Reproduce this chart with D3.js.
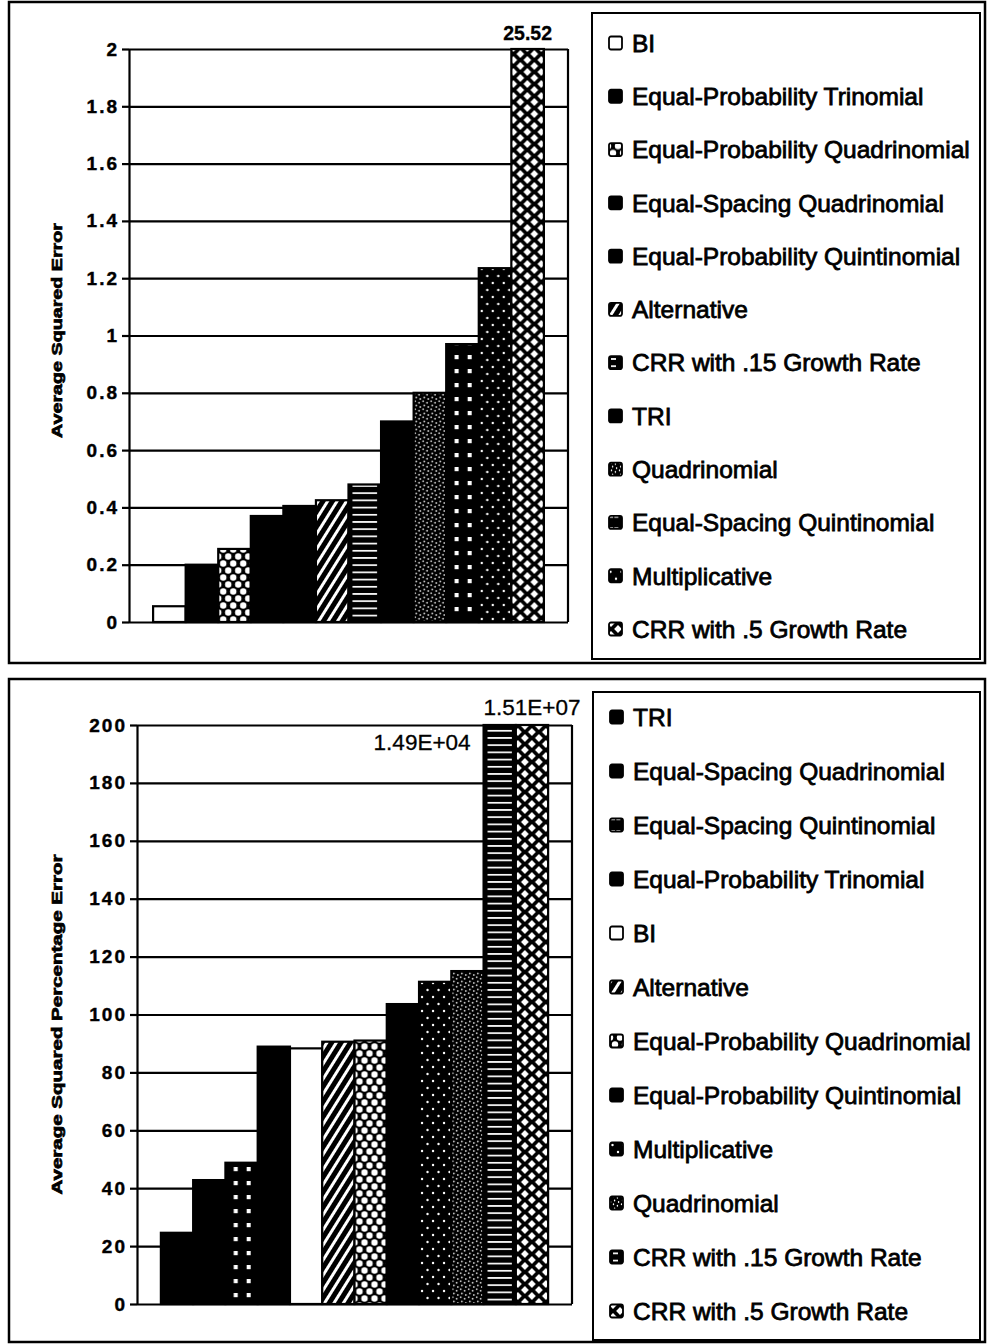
<!DOCTYPE html>
<html>
<head>
<meta charset="utf-8">
<script src="https://cdn.jsdelivr.net/npm/d3@7"></script>
<style>
  body { margin: 0; background: #fff; }
  svg { display: block; }
  text { font-family: "Liberation Sans", Arial, Helvetica, sans-serif; fill: #000; }
</style>
</head>
<body>
<svg id="chart" width="989" height="1344"></svg>
<script>
// ---- data ----------------------------------------------------------------
const seriesTop = [
  "BI", "Equal-Probability Trinomial", "Equal-Probability Quadrinomial",
  "Equal-Spacing Quadrinomial", "Equal-Probability Quintinomial", "Alternative",
  "CRR with .15 Growth Rate", "TRI", "Quadrinomial", "Equal-Spacing Quintinomial",
  "Multiplicative", "CRR with .5 Growth Rate"
];
const valuesTop = [0.055, 0.20, 0.255, 0.37, 0.405, 0.425, 0.48, 0.70, 0.80, 0.97, 1.235, 25.52];
const ticksTop = [0, 0.2, 0.4, 0.6, 0.8, 1, 1.2, 1.4, 1.6, 1.8, 2];

const seriesBottom = [
  "TRI", "Equal-Spacing Quadrinomial", "Equal-Spacing Quintinomial",
  "Equal-Probability Trinomial", "BI", "Alternative", "Equal-Probability Quadrinomial",
  "Equal-Probability Quintinomial", "Multiplicative", "Quadrinomial",
  "CRR with .15 Growth Rate", "CRR with .5 Growth Rate"
];
const valuesBottom = [24.6, 42.8, 48.8, 88.9, 88.3, 90.6, 91.0, 103.6, 111.3, 115.0, 1.49e4, 1.51e7];
const ticksBottom = [0, 20, 40, 60, 80, 100, 120, 140, 160, 180, 200];

// ---- helpers -------------------------------------------------------------
const svg = d3.select("#chart");
const defs = svg.append("defs");

// "1.49E+04" style scientific notation
function sciLabel(v) {
  const [m, e] = v.toExponential(2).split("e");
  const sign = e[0] === "-" ? "-" : "+";
  const digits = e.replace(/[+-]/, "").padStart(2, "0");
  return m + "E" + sign + digits;
}

// Fill patterns, one per series, anchored at the left edge of its bar
function makePattern(id, kind, x0, bw) {
  const p = defs.append("pattern").attr("id", id).attr("patternUnits", "userSpaceOnUse");
  const bg = (w, h, c) => p.append("rect").attr("width", w).attr("height", h).attr("fill", c);
  const diamond = (cx, cy, r) => `M${cx - r},${cy}L${cx},${cy - r}L${cx + r},${cy}L${cx},${cy + r}Z`;
  switch (kind) {
    case "lattice": // white rounded holes on black
      p.attr("x", x0).attr("width", 10).attr("height", 14);
      bg(10, 14, "#000");
      [[5, 3.5], [0, 10.5], [10, 10.5]].forEach(([cx, cy]) =>
        p.append("circle").attr("cx", cx).attr("cy", cy).attr("r", 3.2).attr("fill", "#fff"));
      break;
    case "diagonal": // white slanted stripes on black
      p.attr("x", x0).attr("width", 8).attr("height", 8).attr("patternTransform", "rotate(32)");
      bg(8, 8, "#000");
      p.append("rect").attr("x", 2).attr("width", 3).attr("height", 8).attr("fill", "#fff");
      break;
    case "hlines": // white horizontal dashes on black
      p.attr("x", x0).attr("width", bw).attr("height", 7.2);
      bg(bw, 7.2, "#000");
      p.append("rect").attr("x", 4).attr("y", 2.7).attr("width", bw - 8).attr("height", 1.7).attr("fill", "#fff");
      break;
    case "stipple": // fine white specks on black
      p.attr("x", x0).attr("width", 8).attr("height", 8);
      bg(8, 8, "#000");
      [[1.5, 1.2], [5.4, 2.8], [2.6, 5.6], [6.6, 6.9]].forEach(([cx, cy]) =>
        p.append("ellipse").attr("cx", cx).attr("cy", cy).attr("rx", 0.7).attr("ry", 1.0).attr("fill", "#fff"));
      break;
    case "squares": // two columns of small white squares
      p.attr("x", x0).attr("width", bw).attr("height", 14);
      bg(bw, 14, "#000");
      [bw * 0.32, bw * 0.72].forEach(cx =>
        p.append("rect").attr("x", cx - 2).attr("y", 5).attr("width", 4).attr("height", 4.2).attr("fill", "#fff"));
      break;
    case "dots": // sparse small white dots
      p.attr("x", x0).attr("width", 11).attr("height", 14);
      bg(11, 14, "#000");
      [[3, 3], [8.5, 10]].forEach(([cx, cy]) =>
        p.append("circle").attr("cx", cx).attr("cy", cy).attr("r", 1.2).attr("fill", "#fff"));
      break;
    case "diamonds": // white diamonds on black
      p.attr("x", x0 + 2).attr("width", 14).attr("height", 12);
      bg(14, 12, "#000");
      p.append("path").attr("fill", "#fff").attr("d",
        diamond(7, 6, 3.9) + diamond(0, 0, 3.9) + diamond(14, 0, 3.9) + diamond(0, 12, 3.9) + diamond(14, 12, 3.9));
      break;
  }
  return `url(#${id})`;
}

const styleOf = {
  "BI": "white",
  "Equal-Probability Trinomial": "black",
  "Equal-Probability Quadrinomial": "lattice",
  "Equal-Spacing Quadrinomial": "black",
  "Equal-Probability Quintinomial": "black",
  "Alternative": "diagonal",
  "CRR with .15 Growth Rate": "hlines",
  "TRI": "black",
  "Quadrinomial": "stipple",
  "Equal-Spacing Quintinomial": "squares",
  "Multiplicative": "dots",
  "CRR with .5 Growth Rate": "diamonds"
};

function fillFor(prefix, name, x0, bw) {
  const kind = styleOf[name];
  if (kind === "white") return "#fff";
  if (kind === "black") return "#000";
  return makePattern(prefix + "-" + kind, kind, x0, bw);
}

// ---- one panel: framed bar chart with legend box -------------------------
function drawPanel(cfg) {
  const g = svg.append("g");

  // outer frame of the panel
  g.append("rect").attr("x", cfg.frame[0]).attr("y", cfg.frame[1])
    .attr("width", cfg.frame[2]).attr("height", cfg.frame[3])
    .attr("fill", "none").attr("stroke", "#000").attr("stroke-width", 2.5);

  const x = d3.scaleBand().domain(cfg.series).range([cfg.left, cfg.right])
    .paddingInner(0).paddingOuter(0.74);
  const yMax = d3.max(cfg.ticks);
  const y = d3.scaleLinear().domain([0, yMax]).range([cfg.bottom, cfg.top]).clamp(true);

  // horizontal gridlines
  g.append("g").attr("transform", `translate(${cfg.left},0)`)
    .call(d3.axisLeft(y).tickValues(cfg.ticks).tickSize(-(cfg.right - cfg.left)).tickFormat(""))
    .call(a => a.select(".domain").remove())
    .call(a => a.selectAll("line").attr("stroke", "#000").attr("stroke-width", 2.2));

  // right edge of plot area
  g.append("line").attr("x1", cfg.right).attr("x2", cfg.right)
    .attr("y1", y(yMax)).attr("y2", y(0)).attr("stroke", "#000").attr("stroke-width", 2.2);

  // bars
  const bw = x.bandwidth();
  g.append("g").selectAll("rect").data(cfg.series).join("rect")
    .attr("x", d => x(d))
    .attr("y", (d, i) => y(cfg.values[i]))
    .attr("width", bw)
    .attr("height", (d, i) => y(0) - y(cfg.values[i]))
    .attr("fill", d => fillFor(cfg.prefix, d, x(d), bw))
    .attr("stroke", "#000").attr("stroke-width", 2.2);

  // value axis with labels
  g.append("g").attr("transform", `translate(${cfg.left},0)`)
    .call(d3.axisLeft(y).tickValues(cfg.ticks).tickSize(7).tickSizeOuter(0).tickPadding(3)
      .tickFormat(d => String(+d.toFixed(1))))
    .call(a => a.select(".domain").attr("stroke", "#000").attr("stroke-width", 2.2))
    .call(a => a.selectAll("line").attr("stroke", "#000").attr("stroke-width", 2.2))
    .call(a => a.selectAll("text")
      .style("font-family", '"Liberation Sans", Arial, sans-serif')
      .style("font-size", cfg.tickFont + "px").style("font-weight", "bold")
      .style("stroke", "#000").style("stroke-width", "0.4px")
      .style("letter-spacing", cfg.tickSpacing + "px").attr("fill", "#000"));

  // axis title
  g.append("text")
    .attr("transform", `translate(${cfg.titleX},${(y(0) + y(yMax)) / 2 + cfg.titleShift}) rotate(-90)`)
    .attr("text-anchor", "middle")
    .attr("textLength", cfg.titleLen).attr("lengthAdjust", "spacingAndGlyphs")
    .style("font-size", "15px").style("font-weight", "bold")
    .style("stroke", "#000").style("stroke-width", "0.7px")
    .text(cfg.title);

  // labels for bars running past the top of the scale
  cfg.series.forEach((name, i) => {
    const v = cfg.values[i];
    if (v <= yMax) return;
    const lab = cfg.overflow[name];
    g.append("text")
      .attr("x", lab.anchor === "end" ? x(name) + lab.dx : x(name) + bw / 2)
      .attr("y", y(yMax) + lab.dy)
      .attr("text-anchor", lab.anchor)
      .style("font-size", lab.size + "px").style("font-weight", lab.weight)
      .style("stroke", "#000").style("stroke-width", "0.3px")
      .text(cfg.format(v));
  });

  // legend box
  const lb = cfg.legendBox;
  g.append("rect").attr("x", lb[0]).attr("y", lb[1]).attr("width", lb[2]).attr("height", lb[3])
    .attr("fill", "#fff").attr("stroke", "#000").attr("stroke-width", 2);
  const ly = d3.scalePoint().domain(cfg.series).range(cfg.legendRows);
  const items = g.append("g").selectAll("g").data(cfg.series).join("g")
    .attr("transform", d => `translate(${lb[0] + 17},${ly(d)})`);
  items.append("rect").attr("x", 0).attr("y", -6.5).attr("width", 13).attr("height", 13).attr("rx", 2)
    .attr("fill", d => fillFor(cfg.prefix + "-key", d, lb[0] + 17, 13))
    .attr("stroke", "#000").attr("stroke-width", 1.8);
  items.append("text").attr("x", 23).attr("dy", "0.36em")
    .style("font-size", "24.5px").style("stroke", "#000").style("stroke-width", "0.8px")
    .text(d => d);
}

drawPanel({
  prefix: "top",
  frame: [9, 2, 976, 661],
  series: seriesTop, values: valuesTop, ticks: ticksTop,
  left: 129, right: 568, top: 49, bottom: 622,
  tickFont: 19, tickSpacing: 2,
  title: "Average Squared Error", titleX: 62, titleShift: -5, titleLen: 215,
  format: d3.format(".2f"),
  overflow: { "CRR with .5 Growth Rate": { anchor: "middle", dx: 0, dy: -9, size: 19.5, weight: "bold" } },
  legendBox: [592, 13, 388, 646], legendRows: [43, 629]
});

drawPanel({
  prefix: "bot",
  frame: [9, 679, 976, 663],
  series: seriesBottom, values: valuesBottom, ticks: ticksBottom,
  left: 137, right: 572, top: 725, bottom: 1304,
  tickFont: 19, tickSpacing: 2,
  title: "Average Squared Percentage Error", titleX: 62, titleShift: 10, titleLen: 340,
  format: sciLabel,
  overflow: {
    "CRR with .15 Growth Rate": { anchor: "end", dx: -13, dy: 25, size: 22.5, weight: "normal" },
    "CRR with .5 Growth Rate": { anchor: "middle", dx: 0, dy: -10, size: 22.5, weight: "normal" }
  },
  legendBox: [593, 692, 387, 648], legendRows: [717, 1311]
});
</script>
</body>
</html>
